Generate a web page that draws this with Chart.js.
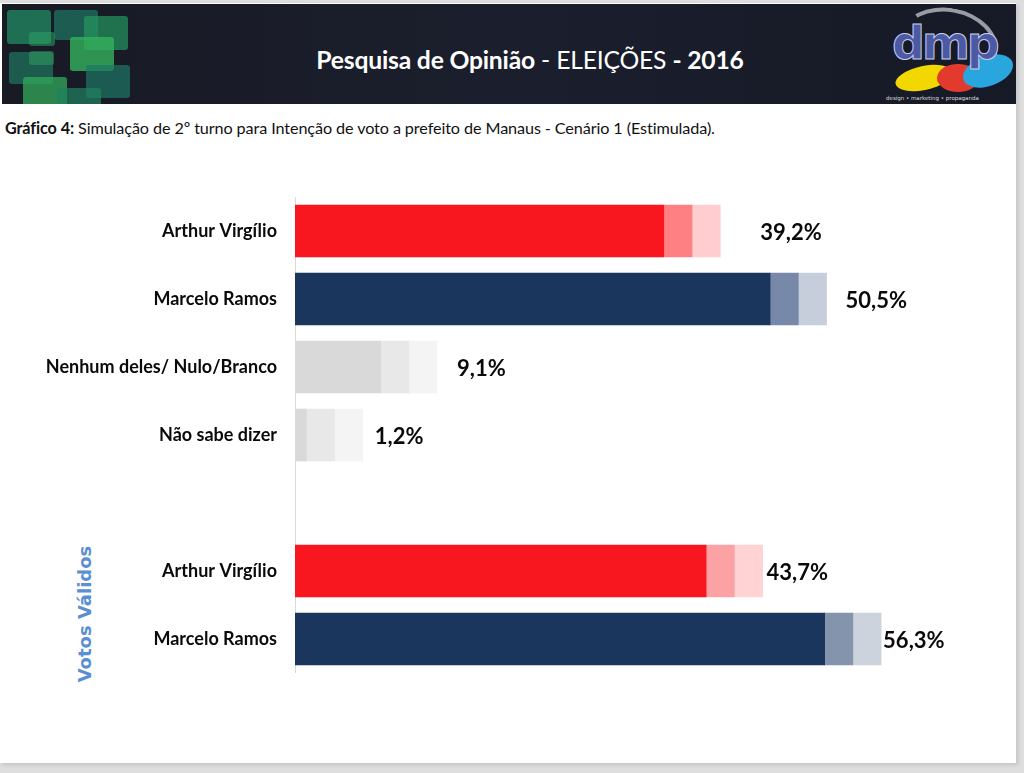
<!DOCTYPE html>
<html>
<head>
<meta charset="utf-8">
<script src="https://cdn.jsdelivr.net/npm/chart.js@4.4.1/dist/chart.umd.min.js"></script>
<style>
  html, body { margin: 0; padding: 0; }
  body { width: 1024px; height: 773px; background: #dedede; position: relative; overflow: hidden; font-family: Lato, "Open Sans", sans-serif; }
  #slide { position: absolute; left: 0; top: 3px; width: 1016px; height: 760px; background: #fff; box-shadow: 2px 2px 4px rgba(0,0,0,0.12); }
  #banner { position: absolute; left: 2px; top: 1px; width: 1014px; height: 100px; background: linear-gradient(90deg, #181a24 0%, #1b1f2d 50%, #161926 100%); overflow: hidden; }
  .sq { position: absolute; border-radius: 3px; }
  #title { position: absolute; left: 0; width: 1056px; top: 41px; text-align: center; color: #fff; font-size: 24.7px; font-family: Lato, sans-serif; letter-spacing: -0.2px; }
  #title b { font-weight: 700; }
  #title span { font-weight: 400; }
  #subtitle { position: absolute; left: 5px; top: 115px; font-size: 16.2px; color: #111; font-family: Lato, sans-serif; letter-spacing: -0.1px; }
  #vv { position: absolute; left: 84px; top: 614px; transform: translate(-50%, -50%) rotate(-90deg); color: #5a8fd4; font-family: "DejaVu Sans", sans-serif; font-weight: bold; font-size: 18px; white-space: nowrap; }
  #chartwrap { position: absolute; left: 0; top: 197px; }
</style>
</head>
<body>
<div id="slide">
  <div id="banner">
    <div class="sq" style="left:5px;top:6px;width:44px;height:34px;background:rgba(34,140,100,0.75)"></div>
    <div class="sq" style="left:52px;top:6px;width:44px;height:30px;background:rgba(30,120,100,0.7)"></div>
    <div class="sq" style="left:82px;top:12px;width:44px;height:34px;background:rgba(36,150,95,0.7)"></div>
    <div class="sq" style="left:27px;top:28px;width:26px;height:14px;background:rgba(45,160,100,0.55)"></div>
    <div class="sq" style="left:7px;top:48px;width:44px;height:32px;background:rgba(30,120,95,0.7)"></div>
    <div class="sq" style="left:27px;top:47px;width:25px;height:14px;background:rgba(50,170,100,0.45)"></div>
    <div class="sq" style="left:68px;top:33px;width:44px;height:34px;background:rgba(52,178,92,0.8)"></div>
    <div class="sq" style="left:84px;top:61px;width:44px;height:33px;background:rgba(28,118,100,0.7)"></div>
    <div class="sq" style="left:21px;top:73px;width:44px;height:32px;background:rgba(50,170,90,0.75)"></div>
    <div class="sq" style="left:55px;top:84px;width:44px;height:22px;background:rgba(32,130,98,0.7)"></div>
    <div class="sq" style="left:0px;top:100px;width:42px;height:6px;background:rgba(32,130,98,0.6)"></div>
    <div id="title"><b>Pesquisa de Opinião</b><span> - ELEIÇÕES </span><b>- 2016</b></div>
    <!-- logo -->
    <div style="position:absolute;left:896px;top:4px;width:92px;height:66px;border:4px solid #9a9ca4;border-radius:50%;border-left-color:transparent;border-bottom-color:transparent;transform:rotate(10deg)"></div>
    <div style="position:absolute;left:893px;top:62px;width:58px;height:24px;border-radius:50%;background:#f2d800;transform:rotate(-12deg)"></div>
    <div style="position:absolute;left:935px;top:60px;width:42px;height:28px;border-radius:50%;background:#e23a2c"></div>
    <div style="position:absolute;left:960px;top:52px;width:52px;height:30px;border-radius:50%;background:#2aa6df;transform:rotate(-20deg)"></div>
    <div style="position:absolute;left:890px;top:12px;font-family:'DejaVu Sans',sans-serif;font-size:46px;font-weight:bold;color:#4c5aa6;letter-spacing:-3px;-webkit-text-stroke:1px #c9cbe8">dmp</div>
    <div style="position:absolute;left:884px;top:91px;font-size:5.5px;color:#ddd;font-family:'DejaVu Sans',sans-serif;white-space:nowrap">design • marketing • propaganda</div>
  </div>
  <div id="subtitle"><b>Gráfico 4:</b> Simulação de 2º turno para Intenção de voto a prefeito de Manaus - Cenário 1 (Estimulada).</div>
</div>
<div id="vv">Votos Válidos</div>
<div id="chartwrap"><canvas id="c" width="1010" height="476"></canvas></div>
<script>
// ---- data ----
const categories = ['Arthur Virgílio', 'Marcelo Ramos', 'Nenhum deles/ Nulo/Branco', 'Não sabe dizer', '', 'Arthur Virgílio', 'Marcelo Ramos'];
const values = [39.2, 50.5, 9.1, 1.2, null, 43.7, 56.3];
const fadeA = [3, 3, 3, 3, null, 3, 3];
const fadeB = [3, 3, 3, 3, null, 3, 3];

// ---- styles ----
const mainColors = ['#f8161f', '#1b365c', '#d9d9d9', '#d9d9d9', '#fff', '#f8161f', '#1b365c'];
const fadeAColors = ['#ff8083', '#7788a8', '#e8e8e8', '#e8e8e8', '#fff', '#fca2a4', '#8494ac'];
const fadeBColors = ['#ffccd0', '#c6cedb', '#f4f4f4', '#f4f4f4', '#fff', '#ffd2d4', '#cdd3dc'];
const labelGap = [40, 19, 20, 12, 0, 4, 2];

const valueLabels = {
  id: 'valueLabels',
  afterDatasetsDraw(chart) {
    const ctx = chart.ctx;
    const meta = chart.getDatasetMeta(2);
    ctx.save();
    ctx.font = 'bold 22px Lato, sans-serif';
    ctx.fillStyle = '#0a0a0a';
    ctx.textAlign = 'left';
    ctx.textBaseline = 'middle';
    values.forEach((v, i) => {
      if (v == null) return;
      const el = meta.data[i];
      ctx.fillText(v.toFixed(1).replace('.', ',') + '%', el.x + labelGap[i], el.y + 2);
    });
    ctx.restore();
  }
};

new Chart(document.getElementById('c'), {
  type: 'bar',
  data: {
    labels: categories,
    datasets: [
      { data: values, backgroundColor: mainColors, barThickness: 52, borderWidth: 0 },
      { data: fadeA, backgroundColor: fadeAColors, barThickness: 52, borderWidth: 0 },
      { data: fadeB, backgroundColor: fadeBColors, barThickness: 52, borderWidth: 0 }
    ]
  },
  options: {
    indexAxis: 'y',
    responsive: false,
    animation: false,
    devicePixelRatio: 1,
    layout: { padding: 0 },
    plugins: { legend: { display: false }, tooltip: { enabled: false } },
    scales: {
      x: { stacked: true, min: 0, max: 76, display: false },
      y: {
        stacked: true,
        grid: { display: false, drawTicks: false },
        border: { display: true, color: '#d9d9d9', width: 1 },
        ticks: { color: '#0a0a0a', font: { family: 'Lato', weight: 'bold', size: 18 }, padding: 18, autoSkip: false },
        afterFit(scale) { scale.width = 295; scale.paddingTop = 0; scale.paddingBottom = 0; }
      }
    }
  },
  plugins: [valueLabels]
});
</script>
</body>
</html>
